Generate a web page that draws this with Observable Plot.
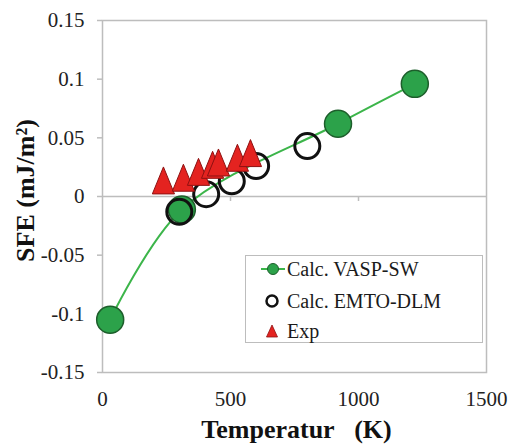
<!DOCTYPE html>
<html>
<head>
<meta charset="utf-8">
<script src="https://cdn.jsdelivr.net/npm/d3@7"></script>
<script src="https://cdn.jsdelivr.net/npm/@observablehq/plot@0.6"></script>
<style>
  body { margin: 0; background: #fff; }
  #wrap { position: relative; width: 509px; height: 445px; font-family: 'Liberation Serif', 'Times New Roman', serif; }
  #legend { position: absolute; left: 245px; top: 255px; width: 238px; height: 88px; border: 1.5px solid #bdbdbd; background: #fff; box-sizing: border-box; }
  .row { position: absolute; left: 14px; height: 30px; display: flex; align-items: center; font-size: 20px; color: #1a1a1a; }
  .row svg { margin-right: 1px; }
</style>
</head>
<body>
<div id="wrap"></div>
<script>
// ---- data ----
const vaspT   = [30, 310, 920, 1220];
const vaspSFE = [-0.105, -0.011, 0.062, 0.096];
const emtoT   = [300, 405, 505, 600, 800];
const emtoSFE = [-0.013, 0.002, 0.013, 0.026, 0.043];
const expT    = [238, 316, 375, 430, 453, 527, 578];
const expSFE  = [0.0137, 0.016, 0.021, 0.027, 0.029, 0.033, 0.037];
const yTicks  = [-0.15, -0.1, -0.05, 0, 0.05, 0.1, 0.15];
const xTicks  = [0, 500, 1000, 1500];
const seriesNames = ["Calc. VASP-SW", "Calc. EMTO-DLM", "Exp"];
const xLabel = "Temperatur\u00a0\u00a0\u00a0(K)";
const yLabel = "SFE (mJ/m\u00b2)";

const vasp = vaspT.map((t, i) => ({t, v: vaspSFE[i]}));
const emto = emtoT.map((t, i) => ({t, v: emtoSFE[i]}));
const exp  = expT.map((t, i) => ({t, v: expSFE[i]}));

const green = "#2ca24a", greenDark = "#1d5e2b", red = "#e42320", redDark = "#8e1111", gray = "#bdbdbd";
const serif = "'Liberation Serif', 'Times New Roman', serif";

const tri = {
  draw(ctx, size) {
    const r = Math.sqrt(size / Math.PI);
    ctx.moveTo(0, -r);
    ctx.lineTo(r * 0.82, r);
    ctx.lineTo(-r * 0.82, r);
    ctx.closePath();
  }
};

const fmt = d => String(+d.toFixed(2));

const chart = Plot.plot({
  width: 509, height: 445,
  marginLeft: 102, marginRight: 23, marginTop: 20, marginBottom: 73,
  style: { fontFamily: serif, fontSize: "21px", color: "#222", background: "#fff" },
  x: { domain: [0, 1500] },
  y: { domain: [-0.15, 0.15] },
  marks: [
    Plot.frame({ stroke: gray, strokeWidth: 1.5 }),
    Plot.ruleY([0], { stroke: gray, strokeWidth: 1.5 }),
    Plot.axisY({ ticks: yTicks, tickFormat: fmt, tickSize: 5, tickPadding: 13, stroke: gray, strokeWidth: 1.5, fill: "#222", label: null }),
    Plot.axisX({ ticks: xTicks, tickFormat: d => String(d), tickSize: 0, tickPadding: 19, fill: "#222", label: null }),
    Plot.axisX({ ticks: [500, 1000], tickSize: 5, text: null, dy: -176, stroke: gray, strokeWidth: 1.5, label: null }),
    Plot.line(vasp, { x: "t", y: "v", stroke: "#3cb54a", strokeWidth: 2, curve: "catmull-rom" }),
    Plot.dot(vasp, { x: "t", y: "v", r: 13.5, fill: green, stroke: greenDark, strokeWidth: 1.5 }),
    Plot.dot(emto, { x: "t", y: "v", r: 12.5, fill: "none", stroke: "#111", strokeWidth: 3 }),
    Plot.dot(exp, { x: "t", y: "v", r: 13.5, symbol: tri, fill: red, stroke: redDark, strokeWidth: 1 }),
    Plot.text([xLabel], { frameAnchor: "bottom", textAnchor: "middle", lineAnchor: "middle", dx: 2, dy: 57, text: d => d, fontSize: 26, fontWeight: "bold", fill: "#111" }),
    Plot.text([yLabel], { frameAnchor: "left", textAnchor: "middle", lineAnchor: "middle", dx: -77, dy: -6, rotate: -90, text: d => d, fontSize: 26, fontWeight: "bold", fill: "#111" })
  ]
});

const wrap = document.getElementById("wrap");
wrap.appendChild(chart);

// legend
const legend = document.createElement("div");
legend.id = "legend";
const icons = [
  `<svg width="26" height="16"><line x1="1" y1="8" x2="25" y2="8" stroke="#3cb54a" stroke-width="2"/><circle cx="13" cy="8" r="5.5" fill="${green}" stroke="${greenDark}" stroke-width="1"/></svg>`,
  `<svg width="26" height="16"><circle cx="12" cy="8" r="5.5" fill="none" stroke="#111" stroke-width="2.5"/></svg>`,
  `<svg width="26" height="16"><path d="M12,2 L17.5,14 L6.5,14 Z" fill="${red}" stroke="${redDark}" stroke-width="0.8"/></svg>`
];
const tops = [-2, 30, 60];
seriesNames.forEach((name, i) => {
  const row = document.createElement("div");
  row.className = "row";
  row.style.top = tops[i] + "px";
  row.innerHTML = icons[i] + `<span>${name}</span>`;
  legend.appendChild(row);
});
wrap.appendChild(legend);
</script>
</body>
</html>
